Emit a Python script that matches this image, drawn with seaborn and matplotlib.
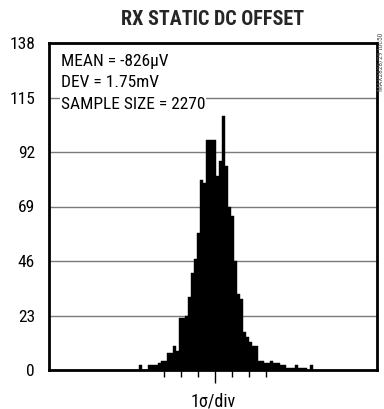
import numpy as np
import pandas as pd
import matplotlib
matplotlib.use("Agg")
import matplotlib.pyplot as plt
from matplotlib import font_manager
import seaborn as sns

# ---- data (x in units of sigma, 0 = centre tick) ----
first_edge_sigma = -4.438
bin_width_sigma = 0.1794
counts = [2, 0, 0, 2, 2, 2, 3, 4, 4, 7, 7, 10, 8,
          22, 22, 23, 31, 41, 47, 58, 80, 79, 97, 97, 97, 82, 88, 107, 86,
          69, 65, 46, 32, 30, 16, 14, 12, 10, 10,
          4, 4, 3, 3, 4, 3, 3, 2, 2, 1, 1, 1, 2, 1, 1, 1, 0, 2]
y_ticks = [0, 23, 46, 69, 92, 115, 138]
sigma_ticks_minor = [-3, -2, -1, 1, 2, 3]
sigma_tick_major = [0]
title = "RX STATIC DC OFFSET"
stats_lines = ["MEAN = -826µV", "DEV = 1.75mV", "SAMPLE SIZE = 2270"]
x_label = "1σ/div"
side_note = "MAX2828/29 toc50"

edges = (first_edge_sigma + bin_width_sigma * np.arange(len(counts) + 1)).tolist()
centers = [(a + b) / 2 for a, b in zip(edges[:-1], edges[1:])]
df = pd.DataFrame({"sigma": centers, "count": counts})

sns.set_style("white")

# pick a condensed face if one is installed, otherwise a regular one at smaller sizes
installed = {f.name for f in font_manager.fontManager.ttflist}
narrow = None
for cand in ["Liberation Sans Narrow", "Roboto Condensed", "Arial Narrow",
             "Nimbus Sans Narrow", "Open Sans Condensed"]:
    if cand in installed:
        narrow = cand
        break
if narrow is not None:
    fam = [narrow, "DejaVu Sans"]
    fs_title, fs_text, fs_tick, fs_xlabel = 14.5, 12.5, 12.5, 13
else:
    fam = ["Liberation Sans", "DejaVu Sans"]
    fs_title, fs_text, fs_tick, fs_xlabel = 12, 11, 11, 11.5
plt.rcParams["font.family"] = fam

fig = plt.figure(figsize=(3.84, 4.09), dpi=100)
ax = fig.add_axes([49 / 384, 1 - 370 / 409, 328 / 384, 327 / 409])

sns.histplot(data=df, x="sigma", weights="count", bins=edges, ax=ax,
             color="black", alpha=1.0, edgecolor="black", linewidth=0.3,
             element="bars", zorder=3)

ax.set_xlim(-9.74, 9.54)
ax.set_ylim(0, 138)
ax.set_yticks(y_ticks)
ax.set_yticklabels([str(v) for v in y_ticks])
ax.yaxis.grid(True, color="#7a7a7a", linewidth=1.0, zorder=0)
ax.xaxis.grid(False)
ax.set_axisbelow(True)
ax.set_ylabel("")

ax.set_xticks(sigma_tick_major)
ax.set_xticks(sigma_ticks_minor, minor=True)
ax.tick_params(axis="x", which="major", direction="out", length=9.5, width=1.0,
               color="black", labelbottom=False, bottom=True)
ax.tick_params(axis="x", which="minor", direction="out", length=5, width=1.0,
               color="black", bottom=True)
ax.tick_params(axis="y", length=0, pad=10, labelsize=fs_tick, labelcolor="black")

ax.set_xlabel(x_label, fontsize=fs_xlabel, color="black")
ax.xaxis.label.set_va("center")
ax.xaxis.set_label_coords(0.5, -31 / 327)

for s in ax.spines.values():
    s.set_visible(True)
    s.set_color("black")
    s.set_linewidth(2.0)

ax.set_title(title, fontsize=fs_title, fontweight="bold", pad=13)

for i, line in enumerate(stats_lines):
    ax.text(0.036, (370 - (61.5 + 21.3 * i)) / 327, line, transform=ax.transAxes,
            fontsize=fs_text, va="center", ha="left", color="black", zorder=5,
            bbox=dict(facecolor="white", edgecolor="none", pad=0.6))

fig.text(0.992, 0.85, side_note, rotation=90, fontsize=5.5, color="#555555",
         va="center", ha="center")

fig.savefig("out.png", dpi=100)
